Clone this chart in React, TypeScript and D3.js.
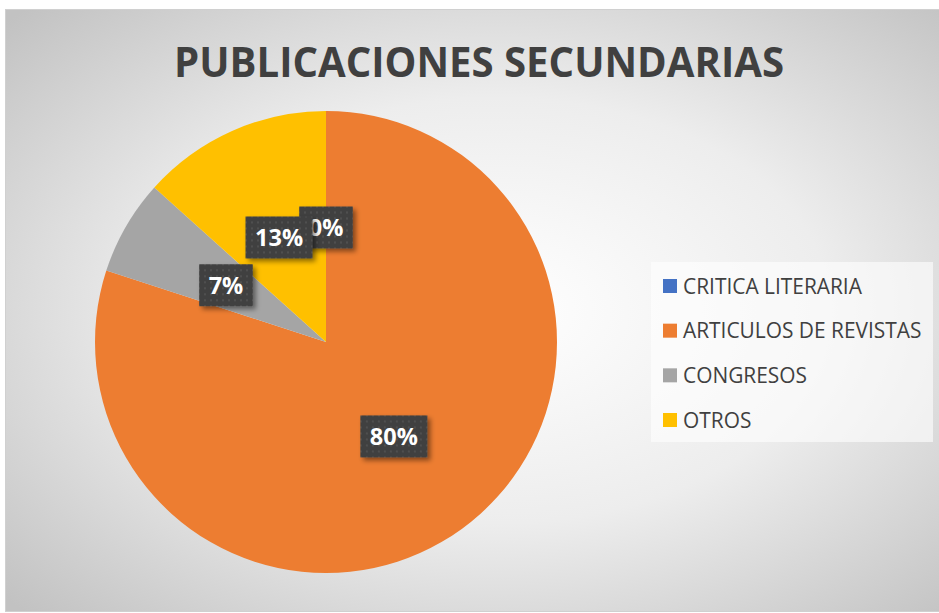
import React, { useEffect, useRef } from "react";
import * as d3 from "d3";

const title = "PUBLICACIONES SECUNDARIAS";
const categories = ["CRITICA LITERARIA", "ARTICULOS DE REVISTAS", "CONGRESOS", "OTROS"];
const values = [0, 12, 1, 2];
const colors = ["#4472C4", "#ED7D31", "#A5A5A5", "#FFC000"];

const W = 939;
const H = 613;

export default function App() {
  const ref = useRef<SVGSVGElement | null>(null);

  useEffect(() => {
    const svg = d3.select(ref.current);
    svg.selectAll("*").remove();

    const defs = svg.append("defs");
    const grad = defs
      .append("radialGradient")
      .attr("id", "bg")
      .attr("cx", "52%")
      .attr("cy", "50%")
      .attr("r", "70.7%");
    grad.append("stop").attr("offset", "0").attr("stop-color", "#ffffff");
    grad.append("stop").attr("offset", "0.5").attr("stop-color", "#ededed");
    grad.append("stop").attr("offset", "1").attr("stop-color", "#c2c2c2");

    const pat = defs
      .append("pattern")
      .attr("id", "dots")
      .attr("patternUnits", "userSpaceOnUse")
      .attr("width", 6)
      .attr("height", 6);
    pat.append("rect").attr("width", 6).attr("height", 6).attr("fill", "#404040");
    pat.append("rect").attr("x", 2).attr("y", 2).attr("width", 2).attr("height", 2).attr("fill", "#4f4f4f");

    const sh = defs
      .append("filter")
      .attr("id", "shadow")
      .attr("x", "-30%")
      .attr("y", "-30%")
      .attr("width", "170%")
      .attr("height", "170%");
    sh.append("feDropShadow")
      .attr("dx", 3)
      .attr("dy", 3)
      .attr("stdDeviation", 2.5)
      .attr("flood-color", "#000")
      .attr("flood-opacity", 0.45);

    // chart area
    svg
      .append("rect")
      .attr("x", 5.5)
      .attr("y", 9.5)
      .attr("width", 945)
      .attr("height", 602)
      .attr("fill", "url(#bg)")
      .attr("stroke", "#d0d0d0")
      .attr("stroke-width", 1);

    // title
    svg
      .append("text")
      .attr("x", 479)
      .attr("y", 77)
      .attr("text-anchor", "middle")
      .attr("font-family", "'Open Sans', sans-serif")
      .attr("font-weight", 700)
      .attr("font-size", 42)
      .attr("fill", "#404040")
      .attr("textLength", 610)
      .attr("lengthAdjust", "spacingAndGlyphs")
      .text(title);

    // pie
    const cx = 326;
    const cy = 342;
    const r = 231;
    const pie = d3.pie<number>().sort(null).value((d) => d);
    const arcs = pie(values);
    const arc = d3.arc<d3.PieArcDatum<number>>().innerRadius(0).outerRadius(r);
    const g = svg.append("g").attr("transform", `translate(${cx},${cy})`);
    g.selectAll("path.slice")
      .data(arcs)
      .enter()
      .append("path")
      .attr("class", "slice")
      .attr("d", (d) => arc(d) as string)
      .attr("fill", (d, i) => colors[i]);

    const total = d3.sum(values);
    const labels = g.append("g");
    arcs.forEach((d, i) => {
      const [lx, ly] = arc.centroid(d);
      const txt = `${Math.round((values[i] / total) * 100)}%`;
      const lg = labels.append("g").attr("transform", `translate(${lx},${ly + 1})`);
      const box = lg.append("rect").attr("fill", "url(#dots)").attr("filter", "url(#shadow)");
      const t = lg
        .append("text")
        .attr("text-anchor", "middle")
        .attr("dy", "0.36em")
        .attr("font-family", "'Open Sans', sans-serif")
        .attr("font-weight", 700)
        .attr("font-size", 23.5)
        .attr("fill", "#ffffff")
        .text(txt);
      const tw = (t.node() as SVGTextElement).getComputedTextLength();
      const bw = tw + 19;
      const bh = 42;
      box.attr("x", -bw / 2).attr("y", -bh / 2).attr("width", bw).attr("height", bh);
    });

    // legend
    svg
      .append("rect")
      .attr("x", 651)
      .attr("y", 262)
      .attr("width", 282)
      .attr("height", 180)
      .attr("fill", "#ffffff")
      .attr("fill-opacity", 0.6);

    const ly = d3.scalePoint<string>().domain(categories).range([286, 420]);
    const leg = svg.append("g");
    categories.forEach((c, i) => {
      const y = ly(c) as number;
      leg
        .append("rect")
        .attr("x", 663)
        .attr("y", y - 7)
        .attr("width", 14)
        .attr("height", 14)
        .attr("fill", colors[i]);
      leg
        .append("text")
        .attr("x", 683)
        .attr("y", y + 7.5)
        .attr("font-family", "'Open Sans', sans-serif")
        .attr("font-size", 20.9)
        .attr("fill", "#404040")
        .text(c);
    });
  }, []);

  return (
    <svg
      ref={ref}
      width={W}
      height={H}
      style={{ position: "absolute", left: 0, top: 0, display: "block" }}
    />
  );
}
